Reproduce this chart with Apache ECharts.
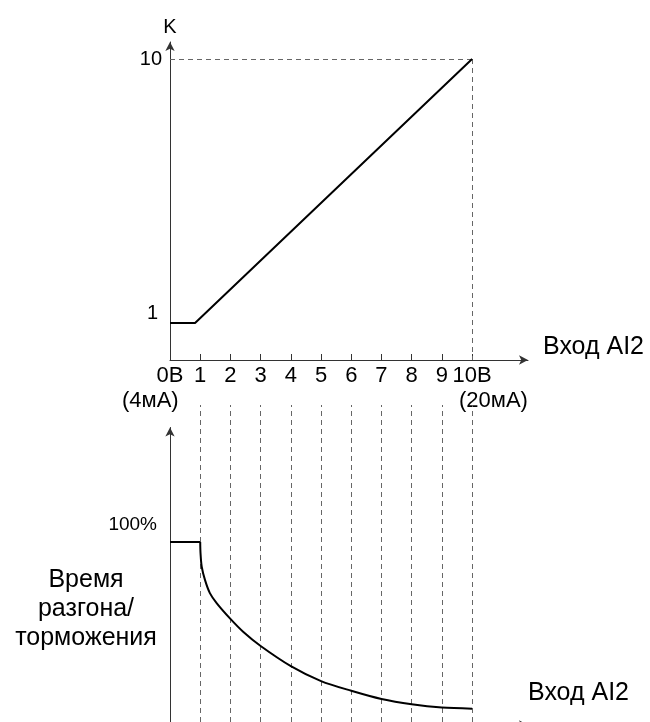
<!DOCTYPE html>
<html>
<head>
<meta charset="utf-8">
<script src="https://cdn.jsdelivr.net/npm/echarts@6/dist/echarts.min.js"></script>
<style>
  html, body { margin: 0; padding: 0; background: #fff; }
  #container { width: 650px; height: 722px; }
</style>
</head>
<body>
<div id="container"></div>
<script>
// данные
var kX = [0, 0.83, 10];
var kY = [1, 1, 10];
var flatX = [0, 1];
var flatY = [100, 100];
var curveX = [1, 1.01, 1.05, 1.16, 1.32, 1.55, 2, 2.42, 3, 4, 5, 6, 7, 8, 9, 10];
var curveY = [100, 94, 86.5, 79.2, 72.1, 66.5, 58, 51, 43.2, 32.2, 24.0, 18.7, 14.2, 11.3, 9.5, 8.9];
var xTicks = [1, 2, 3, 4, 5, 6, 7, 8, 9, 10];
var xLabels = ['0В', '1', '2', '3', '4', '5', '6', '7', '8', '9', '10В'];
var kLabels = [1, 10];
var timeLabels = [100];

var font = "'Liberation Sans', Arial, sans-serif";
var axisColor = '#333';
var dashColor = '#666';

function pairs(xs, ys) {
  var out = [];
  for (var i = 0; i < xs.length; i++) out.push([xs[i], ys[i]]);
  return out;
}

var dom = document.getElementById('container');
var myChart = echarts.init(dom, null, { renderer: 'canvas' });

var option = {
  backgroundColor: '#fff',
  animation: false,
  textStyle: { fontFamily: font, color: '#000' },
  grid: [
    { left: 170, right: 122, top: 42, height: 318, outerBoundsMode: 'none' },
    { left: 170, right: 122, top: 427.5, height: 297.5, outerBoundsMode: 'none' },
    { left: 170, right: 122, top: 405, height: 317, outerBoundsMode: 'none' }
  ],
  xAxis: [
    {
      gridIndex: 0, type: 'value', min: 0, max: 11.85,
      splitLine: { show: false },
      axisLine: { onZero: false, lineStyle: { color: axisColor, width: 1 }, symbol: ['none', 'arrow'], symbolSize: [7, 9] },
      axisTick: { inside: true, length: 6, customValues: xTicks, lineStyle: { color: axisColor } },
      axisLabel: {
        customValues: [0, 1, 2, 3, 4, 5, 6, 7, 8, 9, 10],
        formatter: function (v) { return xLabels[Math.round(v)]; },
        fontSize: 22, color: '#000', margin: 5, fontFamily: font
      },
      name: 'Вход AI2', nameLocation: 'end', nameGap: 15,
      nameTextStyle: { fontSize: 25, color: '#000', verticalAlign: 'bottom', fontFamily: font }
    },
    {
      gridIndex: 1, type: 'value', min: 0, max: 11.85,
      splitLine: { show: false },
      axisLine: { onZero: false, lineStyle: { color: axisColor, width: 1 }, symbol: ['none', 'arrow'], symbolSize: [7, 9] },
      axisTick: { show: false },
      axisLabel: { show: false }
    },
    { gridIndex: 2, type: 'value', min: 0, max: 11.85, show: false }
  ],
  yAxis: [
    {
      gridIndex: 0, type: 'value', min: -0.26, max: 10.58,
      splitLine: { show: false },
      axisLine: { onZero: false, lineStyle: { color: axisColor, width: 1 }, symbol: ['none', 'arrow'], symbolSize: [7, 9] },
      axisTick: { show: false },
      axisLabel: {
        customValues: kLabels,
        formatter: function (v) { return v === 1 ? '{one|1}' : '{ten|' + v + '}'; },
        margin: 8, color: '#000',
        rich: {
          one: { fontSize: 20, fontFamily: font, padding: [0, 4, 20, 0] },
          ten: { fontSize: 20, fontFamily: font }
        }
      },
      name: 'K', nameLocation: 'end', nameGap: 5,
      nameTextStyle: { fontSize: 20, color: '#000', fontFamily: font }
    },
    {
      gridIndex: 1, type: 'value', min: 0, max: 162.6,
      splitLine: { show: false },
      axisLine: { onZero: false, lineStyle: { color: axisColor, width: 1 }, symbol: ['none', 'arrow'], symbolSize: [7, 9] },
      axisTick: { show: false },
      axisLabel: {
        customValues: timeLabels,
        formatter: '{p|{value}%}',
        margin: 13, color: '#000',
        rich: { p: { fontSize: 19, fontFamily: font, padding: [0, 0, 34, 0] } }
      }
    },
    { gridIndex: 2, type: 'value', min: 0, max: 1, show: false }
  ],
  series: [
    {
      type: 'line', xAxisIndex: 0, yAxisIndex: 0,
      data: pairs(kX, kY),
      symbol: 'none',
      lineStyle: { color: '#000', width: 2 },
      z: 5,
      markLine: {
        silent: true, symbol: ['none', 'none'], label: { show: false },
        lineStyle: { color: dashColor, type: [5, 4], width: 1 },
        data: [
          [{ coord: [0, 10] }, { coord: [10, 10] }],
          [{ coord: [10, 10] }, { coord: [10, -0.26] }]
        ]
      }
    },
    {
      type: 'line', xAxisIndex: 1, yAxisIndex: 1,
      data: pairs(flatX, flatY),
      symbol: 'none',
      lineStyle: { color: '#000', width: 2 },
      z: 5
    },
    {
      type: 'line', xAxisIndex: 1, yAxisIndex: 1,
      data: pairs(curveX, curveY),
      symbol: 'none', smooth: 0.3,
      lineStyle: { color: '#000', width: 2 },
      z: 5
    },
    {
      type: 'line', xAxisIndex: 2, yAxisIndex: 2,
      data: [[0, 0]],
      symbol: 'none',
      lineStyle: { opacity: 0 },
      markLine: {
        silent: true, symbol: ['none', 'none'], label: { show: false },
        lineStyle: { color: dashColor, type: [5, 4], width: 1 },
        data: xTicks.map(function (v) { return { xAxis: v }; })
      }
    }
  ],
  graphic: [
    {
      type: 'text', left: 122, top: 390,
      style: { text: '(4мА)', font: '22px ' + font, fill: '#000' }
    },
    {
      type: 'text', left: 459, top: 390,
      style: { text: '(20мА)', font: '22px ' + font, fill: '#000' }
    },
    {
      type: 'text', x: 86, y: 566,
      style: {
        text: 'Время\nразгона/\nторможения',
        font: '25px ' + font, fill: '#000',
        align: 'center', lineHeight: 29
      }
    },
    {
      type: 'text', x: 528, y: 693,
      style: {
        text: 'Вход AI2', font: '25px ' + font, fill: '#000',
        verticalAlign: 'middle'
      }
    }
  ]
};

myChart.setOption(option);
window.addEventListener('resize', myChart.resize);
</script>
</body>
</html>
